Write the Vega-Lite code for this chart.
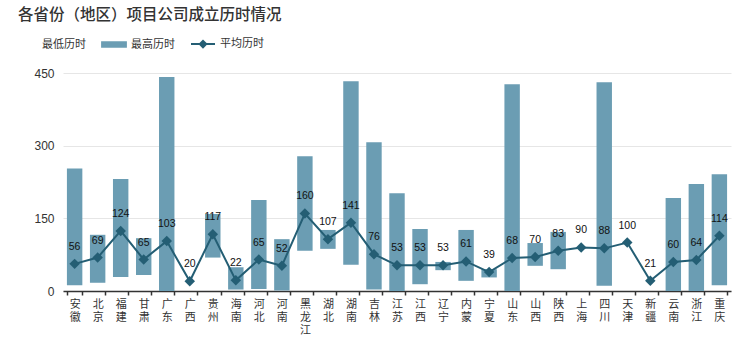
{
  "$schema": "https://vega.github.io/schema/vega-lite/v6.json",
  "width": 668,
  "height": 218,
  "autosize": {"type": "none"},
  "padding": {"left": 63, "top": 73, "right": 23, "bottom": 64},
  "background": "white",
  "config": {
    "font": "Liberation Sans, Noto Sans CJK SC, sans-serif",
    "view": {"stroke": null}
  },
  "title": {
    "text": "各省份（地区）项目公司成立历时情况",
    "anchor": "start",
    "frame": "group",
    "dx": -45,
    "offset": 8,
    "fontSize": 15.5,
    "fontWeight": 500,
    "color": "#333333",
    "font": "Noto Sans CJK SC"
  },
  "data": {
    "values": [
      {"name": "安徽", "min": 12, "max": 253, "avg": 56},
      {"name": "北京", "min": 17, "max": 116, "avg": 69},
      {"name": "福建", "min": 29, "max": 231, "avg": 124},
      {"name": "甘肃", "min": 33, "max": 109, "avg": 65},
      {"name": "广东", "min": 0, "max": 442, "avg": 103},
      {"name": "广西", "min": 20, "max": 20, "avg": 20},
      {"name": "贵州", "min": 69, "max": 159, "avg": 117},
      {"name": "海南", "min": 3, "max": 49, "avg": 22},
      {"name": "河北", "min": 4, "max": 188, "avg": 65},
      {"name": "河南", "min": 1, "max": 107, "avg": 52},
      {"name": "黑龙江", "min": 83, "max": 278, "avg": 160},
      {"name": "湖北", "min": 87, "max": 126, "avg": 107},
      {"name": "湖南", "min": 54, "max": 433, "avg": 141},
      {"name": "吉林", "min": 3, "max": 307, "avg": 76},
      {"name": "江苏", "min": 0, "max": 202, "avg": 53},
      {"name": "江西", "min": 14, "max": 128, "avg": 53},
      {"name": "辽宁", "min": 43, "max": 60, "avg": 53},
      {"name": "内蒙", "min": 21, "max": 126, "avg": 61},
      {"name": "宁夏", "min": 28, "max": 45, "avg": 39},
      {"name": "山东", "min": 0, "max": 427, "avg": 68},
      {"name": "山西", "min": 52, "max": 99, "avg": 70},
      {"name": "陕西", "min": 45, "max": 122, "avg": 83},
      {"name": "上海", "min": 90, "max": 90, "avg": 90},
      {"name": "四川", "min": 11, "max": 431, "avg": 88},
      {"name": "天津", "min": 100, "max": 100, "avg": 100},
      {"name": "新疆", "min": 21, "max": 21, "avg": 21},
      {"name": "云南", "min": 0, "max": 192, "avg": 60},
      {"name": "浙江", "min": 0, "max": 221, "avg": 64},
      {"name": "重庆", "min": 12, "max": 241, "avg": 114}
    ]
  },
  "encoding": {
    "x": {
      "field": "name",
      "type": "nominal",
      "sort": null,
      "scale": {"paddingInner": 0.33, "paddingOuter": 0.17},
      "axis": {
        "title": null,
        "labelAngle": 0,
        "labelExpr": "split(datum.label, '')",
        "labelFontSize": 11,
        "labelLineHeight": 13,
        "labelColor": "#333333",
        "labelFont": "Noto Sans CJK SC",
        "labelPadding": 3,
        "labelBaseline": "top",
        "tickBand": "extent",
        "tickSize": 4,
        "tickColor": "#333333",
        "tickWidth": 1.5,
        "domainColor": "#333333",
        "domainWidth": 1.5,
        "grid": false
      }
    }
  },
  "layer": [
    {
      "mark": {"type": "bar"},
      "encoding": {
        "y": {
          "field": "min",
          "type": "quantitative",
          "scale": {"domain": [0, 450], "nice": false},
          "axis": {
            "title": null,
            "values": [0, 150, 300, 450],
            "domain": false,
            "ticks": false,
            "labelFontSize": 12,
            "labelColor": "#333333",
            "labelPadding": 9,
            "gridColor": "#e6e6e6",
            "gridWidth": 1
          }
        },
        "y2": {"field": "max"},
        "color": {
          "datum": "最高历时",
          "type": "nominal",
          "scale": {
            "domain": ["最低历时", "最高历时", "平均历时"],
            "range": ["transparent", "#6b9db3", "#245e74"]
          },
          "legend": {
            "title": null,
            "orient": "none",
            "direction": "horizontal",
            "legendX": -51,
            "legendY": -42,
            "symbolSize": 576,
            "labelFontSize": 11,
            "labelColor": "#333333",
            "labelFont": "Noto Sans CJK SC",
            "labelOffset": 4,
            "columnPadding": 12,
            "encode": {
              "symbols": {
                "update": {
                  "shape": {"signal": "datum.value === '平均历时' ? 'M-1,0H1M-0.28,0L0,-0.28L0.28,0L0,0.28Z' : 'M-1,-0.2H1V0.2H-1Z'"},
                  "fill": {"signal": "datum.value === '最低历时' ? 'transparent' : datum.value === '最高历时' ? '#6b9db3' : '#245e74'"},
                  "stroke": {"signal": "datum.value === '平均历时' ? '#245e74' : 'transparent'"},
                  "strokeWidth": {"value": 1.8},
                  "opacity": {"value": 1},
                  "fillOpacity": {"value": 1},
                  "strokeOpacity": {"value": 1}
                }
              }
            }
          }
        }
      }
    },
    {
      "mark": {
        "type": "line",
        "strokeWidth": 2,
        "point": {"shape": "diamond", "size": 110, "filled": true, "opacity": 1}
      },
      "encoding": {
        "y": {"field": "avg", "type": "quantitative"},
        "color": {"datum": "平均历时", "type": "nominal"}
      }
    },
    {
      "mark": {"type": "text", "baseline": "middle", "dy": -17, "fontSize": 10.5, "color": "#111111"},
      "encoding": {
        "y": {"field": "avg", "type": "quantitative"},
        "text": {"field": "avg", "type": "quantitative"}
      }
    }
  ]
}
